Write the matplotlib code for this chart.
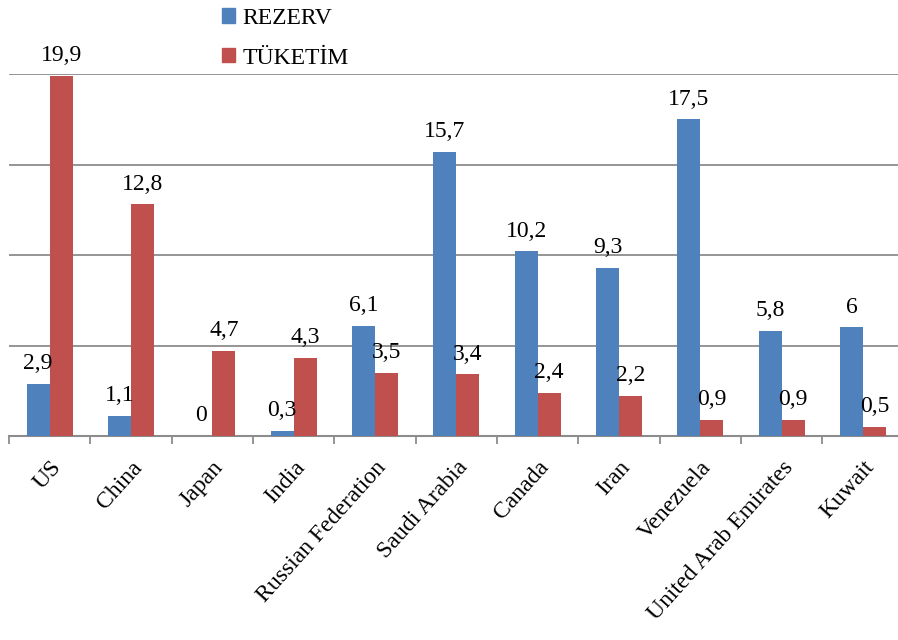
import numpy as np
import matplotlib.pyplot as plt
from matplotlib.patches import Patch

# ülkeler ve değerler
countries = ["US", "China", "Japan", "India", "Russian Federation", "Saudi Arabia",
             "Canada", "Iran", "Venezuela", "United Arab Emirates", "Kuwait"]
rezerv = [2.9, 1.1, 0, 0.3, 6.1, 15.7, 10.2, 9.3, 17.5, 5.8, 6]
tuketim = [19.9, 12.8, 4.7, 4.3, 3.5, 3.4, 2.4, 2.2, 0.9, 0.9, 0.5]
yticks = [0, 5, 10, 15, 20]

BLUE = "#4F81BD"
RED = "#C0504D"
GRID = "#8C8C8C"

plt.rcParams['font.family'] = ['Liberation Serif', 'DejaVu Serif']

fig = plt.figure(figsize=(8.98, 6.40), dpi=100)
ax = fig.add_axes([9 / 898, 204 / 640, 894.6 / 898, 362 / 640])

x = np.arange(len(countries))
w = 0.283
b1 = ax.bar(x - w / 2, rezerv, w, color=BLUE, zorder=3)
b2 = ax.bar(x + w / 2, tuketim, w, color=RED, zorder=3)

def fmt(v):
    return ("%g" % v).replace(".", ",")

for bars, vals in [(b1, rezerv), (b2, tuketim)]:
    for r, v in zip(bars, vals):
        ax.annotate(fmt(v), (r.get_x() + r.get_width() / 2, r.get_height()),
                    xytext=(0, 7), textcoords="offset points", ha="center",
                    va="bottom", fontsize=17, clip_on=False, zorder=4)

ax.set_xlim(-0.5, len(countries) - 0.5)
ax.set_ylim(0, 20)
ax.set_yticks(yticks)
ax.yaxis.grid(True, color=GRID, linewidth=1.3, zorder=0)
ax.tick_params(axis="y", length=0, labelleft=False)

ax.set_xticks(x)
ax.set_xticklabels(countries, rotation=48, ha="right", rotation_mode="anchor",
                   fontsize=17)
ax.tick_params(axis="x", which="major", length=0, pad=15)
ax.set_xticks(np.arange(len(countries) + 1) - 0.5, minor=True)
ax.tick_params(axis="x", which="minor", length=6, width=1.3, color=GRID)

for s in ["top", "right", "left"]:
    ax.spines[s].set_visible(False)
ax.spines["bottom"].set_color(GRID)
ax.spines["bottom"].set_linewidth(1.5)

handles = [Patch(color=BLUE, label="REZERV"), Patch(color=RED, label="TÜKETİM")]
fig.legend(handles=handles, loc="upper left", bbox_to_anchor=(208 / 898, 1.01),
           frameon=False, fontsize=17, handlelength=0.55, handleheight=0.55,
           handletextpad=0.3, labelspacing=0.8, borderaxespad=0.2)

fig.savefig("out.png", dpi=100)
